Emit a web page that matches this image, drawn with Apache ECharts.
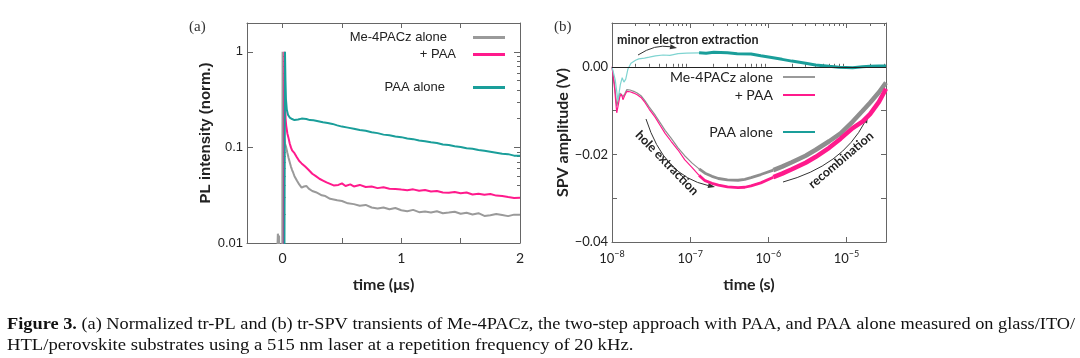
<!DOCTYPE html>
<html><head><meta charset="utf-8">
<script src="https://cdn.jsdelivr.net/npm/echarts@6/dist/echarts.min.js"></script>
<style>html,body{margin:0;padding:0;background:#fff}#c{width:1080px;height:358px}</style>
</head><body><div id="c"></div><script>
// ---------------- DATA ----------------
// (a) tr-PL, time in µs, normalized intensity
const plGray = [[-0.05,0.005],[-0.04,0.0125],[-0.035,0.011],[-0.03,0.012],[-0.025,0.005],[-0.003,0.005],[0.0,1.0],[0.004,0.3],[0.008,0.15],[0.012,0.125],[0.02,0.11],[0.03,0.1],[0.04,0.088],[0.05,0.078],[0.06,0.07],[0.07,0.063],[0.08,0.058],[0.09,0.054],[0.1,0.05],[0.12,0.045],[0.14,0.041],[0.16,0.038],[0.18,0.039],[0.2,0.0395],[0.22,0.037],[0.25,0.035],[0.28,0.034],[0.3,0.033],[0.33,0.0315],[0.36,0.031],[0.4,0.029],[0.43,0.0285],[0.46,0.028],[0.5,0.0275],[0.55,0.026],[0.6,0.0255],[0.65,0.0245],[0.7,0.025],[0.75,0.0235],[0.8,0.023],[0.85,0.0235],[0.9,0.0225],[0.95,0.0232],[1.0,0.022],[1.05,0.0215],[1.1,0.0222],[1.15,0.021],[1.2,0.0213],[1.25,0.0208],[1.3,0.0215],[1.35,0.0205],[1.4,0.0208],[1.45,0.0212],[1.5,0.0202],[1.55,0.0207],[1.6,0.0199],[1.65,0.0205],[1.7,0.0192],[1.75,0.0195],[1.8,0.0201],[1.85,0.0196],[1.9,0.0191],[1.95,0.0198],[2.0,0.0197]];
const plPink = [[0.01,0.005],[0.015,1.0],[0.02,0.35],[0.025,0.2],[0.03,0.17],[0.04,0.14],[0.05,0.125],[0.06,0.11],[0.07,0.1],[0.08,0.093],[0.1,0.087],[0.12,0.079],[0.14,0.072],[0.16,0.068],[0.19,0.063],[0.22,0.058],[0.25,0.053],[0.28,0.05],[0.31,0.047],[0.34,0.045],[0.37,0.043],[0.4,0.0415],[0.43,0.04],[0.47,0.0405],[0.5,0.042],[0.53,0.0395],[0.57,0.041],[0.6,0.039],[0.65,0.0405],[0.7,0.0385],[0.75,0.039],[0.8,0.0375],[0.85,0.0383],[0.9,0.037],[0.95,0.0368],[1.0,0.0362],[1.05,0.0357],[1.1,0.0364],[1.15,0.0352],[1.2,0.0358],[1.25,0.0346],[1.3,0.035],[1.35,0.0338],[1.4,0.0335],[1.45,0.0342],[1.5,0.0332],[1.55,0.0337],[1.6,0.0322],[1.65,0.0328],[1.7,0.0319],[1.75,0.0325],[1.8,0.0313],[1.85,0.031],[1.9,0.0302],[1.95,0.0296],[2.0,0.0298]];
const plTeal = [[0.015,0.005],[0.02,1.0],[0.024,0.5],[0.028,0.32],[0.035,0.25],[0.045,0.22],[0.06,0.205],[0.08,0.198],[0.1,0.193],[0.13,0.196],[0.16,0.2],[0.2,0.198],[0.23,0.193],[0.26,0.192],[0.3,0.188],[0.34,0.183],[0.38,0.18],[0.42,0.176],[0.46,0.17],[0.5,0.165],[0.55,0.161],[0.6,0.157],[0.65,0.152],[0.7,0.149],[0.75,0.144],[0.8,0.141],[0.85,0.136],[0.9,0.134],[0.95,0.13],[1.0,0.128],[1.05,0.124],[1.1,0.122],[1.15,0.118],[1.2,0.116],[1.25,0.113],[1.3,0.111],[1.35,0.107],[1.4,0.106],[1.45,0.103],[1.5,0.101],[1.55,0.098],[1.6,0.097],[1.65,0.094],[1.7,0.092],[1.75,0.09],[1.8,0.088],[1.85,0.086],[1.9,0.085],[1.95,0.082],[2.0,0.082]];

// (b) tr-SPV, time in s, amplitude in V
const spvGray = [[1.0e-8,0],[1.08e-8,-0.004],[1.15e-8,-0.009],[1.2e-8,-0.0092],[1.26e-8,-0.006],[1.32e-8,-0.0058],[1.38e-8,-0.0068],[1.45e-8,-0.0062],[1.55e-8,-0.0052],[1.7e-8,-0.0053],[1.9e-8,-0.0056],[2.1e-8,-0.006],[2.35e-8,-0.0066],[2.65e-8,-0.0078],[3.0e-8,-0.0092],[3.56e-8,-0.011],[4.1e-8,-0.0127],[4.78e-8,-0.0145],[5.7e-8,-0.0163],[7e-8,-0.0185],[8.5e-8,-0.0203],[1.06e-7,-0.022],[1.3e-7,-0.0233],[1.55e-7,-0.0243],[1.9e-7,-0.025],[2.3e-7,-0.0255],[3e-7,-0.0258],[4.1e-7,-0.0259],[5e-7,-0.0257],[6e-7,-0.0253],[8e-7,-0.0246],[1.16e-6,-0.0236],[1.5e-6,-0.0228],[2e-6,-0.0218],[3e-6,-0.0203],[4e-6,-0.019],[6e-6,-0.017],[8.4e-6,-0.0152],[1.2e-5,-0.0125],[1.6e-5,-0.0101],[2e-5,-0.0082],[2.6e-5,-0.0058],[3.2e-5,-0.0036]];
const spvPink = [[1.0e-8,0],[1.08e-8,-0.005],[1.15e-8,-0.0105],[1.2e-8,-0.0107],[1.26e-8,-0.0068],[1.32e-8,-0.0062],[1.38e-8,-0.0075],[1.45e-8,-0.0066],[1.55e-8,-0.0056],[1.7e-8,-0.0057],[1.9e-8,-0.006],[2.1e-8,-0.0064],[2.35e-8,-0.007],[2.65e-8,-0.0082],[3.0e-8,-0.0097],[3.56e-8,-0.0115],[4.1e-8,-0.0133],[4.78e-8,-0.0152],[5.7e-8,-0.017],[7e-8,-0.019],[8.5e-8,-0.0212],[1.06e-7,-0.023],[1.3e-7,-0.0248],[1.55e-7,-0.026],[1.9e-7,-0.0266],[2.3e-7,-0.027],[3e-7,-0.0274],[4.1e-7,-0.0276],[5e-7,-0.0275],[6e-7,-0.0272],[8e-7,-0.0265],[1.16e-6,-0.0252],[1.5e-6,-0.0244],[2e-6,-0.0234],[3e-6,-0.0219],[4e-6,-0.0206],[6e-6,-0.0185],[8.4e-6,-0.0164],[1.2e-5,-0.0140],[1.6e-5,-0.0125],[2e-5,-0.0108],[2.6e-5,-0.008],[3.2e-5,-0.005]];
const spvTeal = [[1.0e-8,0],[1.1e-8,-0.003],[1.19e-8,-0.0077],[1.28e-8,-0.004],[1.35e-8,-0.0025],[1.42e-8,-0.0035],[1.5e-8,-0.0028],[1.6e-8,-0.0005],[1.75e-8,0.0008],[2.0e-8,0.0015],[2.2e-8,0.0018],[2.6e-8,0.002],[3.0e-8,0.0022],[3.6e-8,0.0025],[4.5e-8,0.0027],[5.5e-8,0.0026],[7e-8,0.003],[9e-8,0.0031],[1.3e-7,0.0032],[1.6e-7,0.0031],[2e-7,0.0033],[3e-7,0.0032],[4e-7,0.003],[6e-7,0.0029],[8e-7,0.0025],[1.1e-6,0.0021],[1.5e-6,0.0017],[2e-6,0.0013],[3e-6,0.0008],[4e-6,0.0004],[6e-6,0.0001],[8e-6,-0.0001],[1.2e-5,-0.0002],[1.6e-5,0.0],[2e-5,0.0001],[2.6e-5,0.0002],[3.2e-5,0.0002]];

// names and ticks
const seriesNames = ['Me-4PACz alone', '+ PAA', 'PAA alone'];
const xTicksA = [0, 0.5, 1, 1.5, 2];
const xLabelsA = [0, 1, 2];
const yTicksA = [0.01, 0.1, 1];
const yLabelsA = ['0.01', '0.1', '1'];
const yMinorA = [0.02,0.03,0.04,0.05,0.06,0.07,0.08,0.09,0.2,0.3,0.4,0.5,0.6,0.7,0.8,0.9,2];
const xTicksB = [1e-8, 1e-7, 1e-6, 1e-5];
const xMinorB = [2e-8,3e-8,4e-8,5e-8,6e-8,7e-8,8e-8,9e-8,2e-7,3e-7,4e-7,5e-7,6e-7,7e-7,8e-7,9e-7,2e-6,3e-6,4e-6,5e-6,6e-6,7e-6,8e-6,9e-6,2e-5,3e-5];
const yLabelsB = [-0.04, -0.02, 0];

// ---------------- STYLE ----------------
const FRAME = '#666';
const TXT = '#222';
const fA = '"Liberation Sans", Arial, sans-serif';
const fB = 'Lato, "Open Sans", sans-serif';
const C = {gray: '#9a9a9a', grayB: '#8e8e8e', pink: '#ff1a8c', teal: '#1a9e9a', tealLight: '#7fd4d1'};

const gA = {left: 247, top: 23, width: 273, height: 220};
const gB = {left: 612, top: 23, width: 274, height: 219};

function ax(o) {
  return Object.assign({
    axisLine: {show: true, onZero: false, lineStyle: {color: FRAME, width: 1}},
    splitLine: {show: false}, axisLabel: {show: false},
    axisTick: {show: false}, nameTextStyle: {}
  }, o);
}
const tick = (vals, len) => ({show: true, inside: true, length: len, customValues: vals, lineStyle: {color: FRAME, width: 1}});

function splitAt(d, thr) {
  let i = d.findIndex(p => p[0] >= thr);
  return [d.slice(0, i + 1), d.slice(i)];
}

const xAxis = [
  ax({gridIndex: 0, type: 'value', min: -0.3, max: 2, position: 'bottom',
      axisTick: tick(xTicksA, 5),
      axisLabel: {show: true, customValues: xLabelsA, fontFamily: fB, fontSize: 14, color: TXT, margin: 8},
      name: 'time (μs)', nameLocation: 'middle', nameGap: 34,
      nameTextStyle: {fontFamily: fB, fontSize: 16, fontWeight: 'bold', color: TXT}}),
  ax({gridIndex: 0, type: 'value', min: -0.3, max: 2, position: 'top', axisTick: tick(xTicksA, 5)}),
  {gridIndex: 1, type: 'value', min: -0.3, max: 2, show: false},
  ax({gridIndex: 2, type: 'log', logBase: 10, min: 1e-8, max: 3.2e-5, position: 'bottom',
      axisTick: tick(xTicksB, 5),
      axisLabel: {show: true, customValues: xTicksB, fontFamily: fB, fontSize: 13, color: TXT, margin: 8,
        formatter: v => { const e = Math.round(Math.log10(v)); return '10{s|' + (e < 0 ? '−' : '') + Math.abs(e) + '}'; },
        rich: {s: {fontFamily: fB, fontSize: 9, color: TXT, padding: [0, 0, 8, 0]}}},
      name: 'time (s)', nameLocation: 'middle', nameGap: 35,
      nameTextStyle: {fontFamily: fB, fontSize: 16, fontWeight: 'bold', color: TXT}}),
  ax({gridIndex: 2, type: 'log', logBase: 10, min: 1e-8, max: 3.2e-5, position: 'top', axisTick: tick(xTicksB, 5)}),
  ax({gridIndex: 3, type: 'log', logBase: 10, min: 1e-8, max: 3.2e-5, position: 'bottom', axisLine: {show: false}, axisTick: tick(xMinorB, 3)}),
  ax({gridIndex: 3, type: 'log', logBase: 10, min: 1e-8, max: 3.2e-5, position: 'top', axisLine: {show: false}, axisTick: tick(xMinorB, 3)})
];

const yAxis = [
  ax({gridIndex: 0, type: 'log', logBase: 10, min: 0.01, max: 2, position: 'left',
      axisTick: tick(yTicksA, 6),
      axisLabel: {show: true, customValues: yTicksA, fontFamily: fA, fontSize: 13, color: TXT, margin: 4,
        formatter: v => { const i = yTicksA.findIndex(t => Math.abs(t - v) / t < 1e-6); return i >= 0 ? yLabelsA[i] : ''; }},
      name: 'PL intensity (norm.)', nameLocation: 'middle', nameGap: 33, nameRotate: 90,
      nameTextStyle: {fontFamily: fA, fontSize: 15, fontWeight: 'bold', color: TXT}}),
  ax({gridIndex: 0, type: 'log', logBase: 10, min: 0.01, max: 2, position: 'right', axisTick: tick(yTicksA, 6)}),
  ax({gridIndex: 1, type: 'log', logBase: 10, min: 0.01, max: 2, position: 'left', axisLine: {show: false}, axisTick: tick(yMinorA, 3)}),
  ax({gridIndex: 1, type: 'log', logBase: 10, min: 0.01, max: 2, position: 'right', axisLine: {show: false}, axisTick: tick(yMinorA, 3)}),
  ax({gridIndex: 2, type: 'value', min: -0.04, max: 0.01, interval: 0.01, position: 'left',
      axisTick: {show: true, inside: true, length: 5, lineStyle: {color: FRAME}},
      axisLabel: {show: true, customValues: yLabelsB, fontFamily: fB, fontSize: 13, color: TXT, margin: 4,
        formatter: v => (v < 0 ? '−' : '') + Math.abs(v).toFixed(2)},
      name: 'SPV amplitude (V)', nameLocation: 'middle', nameGap: 38, nameRotate: 90,
      nameTextStyle: {fontFamily: fB, fontSize: 16, fontWeight: 'bold', color: TXT}}),
  ax({gridIndex: 2, type: 'value', min: -0.04, max: 0.01, interval: 0.01, position: 'right',
      axisTick: {show: true, inside: true, length: 5, lineStyle: {color: FRAME}}}),
  {gridIndex: 3, type: 'value', min: -0.04, max: 0.01, show: false}
];

function lineS(name, data, xi, yi, color, width, z) {
  return {type: 'line', name, data, xAxisIndex: xi, yAxisIndex: yi, showSymbol: false, symbol: 'none',
    lineStyle: {color, width}, itemStyle: {color}, z: z || 2, animation: false, silent: true};
}

const [gE, gM0] = splitAt(spvGray, 1.3e-7);
const [gM, gL] = splitAt(gM0, 1e-6);
const [pE, pM0] = splitAt(spvPink, 1.3e-7);
const [pM, pL] = splitAt(pM0, 1e-6);
const [tE, tL] = splitAt(spvTeal, 1.3e-7);

const series = [
  lineS(seriesNames[0], plGray, 0, 0, C.gray, 2, 2),
  lineS(seriesNames[1], plPink, 0, 0, C.pink, 2, 3),
  lineS(seriesNames[2], plTeal, 0, 0, C.teal, 2, 4),
  Object.assign(lineS(seriesNames[0], gE, 3, 4, C.grayB, 1.2, 2), {
    markLine: {silent: true, symbol: 'none', label: {show: false}, animation: false,
      lineStyle: {color: '#222', type: 'solid', width: 1}, data: [{yAxis: 0}]}}),
  lineS(seriesNames[0], gM, 3, 4, C.grayB, 2.8, 2),
  lineS(seriesNames[0], gL, 3, 4, C.grayB, 4.5, 2),
  lineS(seriesNames[1], pE, 3, 4, C.pink, 1.2, 3),
  lineS(seriesNames[1], pM, 3, 4, C.pink, 2.8, 3),
  lineS(seriesNames[1], pL, 3, 4, C.pink, 4.5, 3),
  lineS(seriesNames[2], tE, 3, 4, C.tealLight, 1.2, 4),
  lineS(seriesNames[2], tL, 3, 4, C.teal, 3, 4)
];

function leg(name, right, top, pad, font, size, h) {
  return {data: [name], right, top, orient: 'horizontal', align: 'right', padding: 0,
    itemWidth: 32, itemHeight: h, icon: 'rect', selectedMode: false,
    textStyle: {fontFamily: font, fontSize: size, color: TXT, padding: [0, pad, 0, 0]}};
}
const legend = [
  leg(seriesNames[0], 575, 31, 21, fA, 13, 3),
  leg(seriesNames[1], 575, 48, 12, fA, 13, 3),
  leg(seriesNames[2], 575, 81, 23, fA, 13, 3),
  leg(seriesNames[0], 265, 70, 5, fB, 14, 2),
  leg(seriesNames[1], 265, 88, 5, fB, 14, 2),
  leg(seriesNames[2], 265, 125, 5, fB, 14, 2)
];

function arrow(x1, y1, cx, cy, x2, y2) {
  const a = Math.atan2(y2 - cy, x2 - cx), L = 7, W = 2.6;
  const bx = x2 - L * Math.cos(a), by = y2 - L * Math.sin(a);
  return [
    {type: 'bezierCurve', shape: {x1, y1, cpx1: cx, cpy1: cy, x2: bx, y2: by}, style: {stroke: '#333', lineWidth: 1, fill: null}, silent: true},
    {type: 'polygon', shape: {points: [[x2, y2], [bx - W * Math.sin(a), by + W * Math.cos(a)], [bx + W * Math.sin(a), by - W * Math.cos(a)]]}, style: {fill: '#333'}, silent: true}
  ];
}
const annFont = 'bold 12.5px Lato, "Open Sans", sans-serif';
const capFont = '"Liberation Serif", "DejaVu Serif", serif';

const graphic = [
  {type: 'text', x: 617, y: 40, style: {text: 'minor electron extraction', font: annFont, fill: TXT, verticalAlign: 'middle'}, silent: true},
  {type: 'text', x: 667, y: 163, rotation: -0.80, style: {text: 'hole extraction', font: annFont, fill: TXT, align: 'center', verticalAlign: 'middle'}, silent: true},
  {type: 'text', x: 841, y: 160, rotation: 0.70, style: {text: 'recombination', font: annFont, fill: TXT, align: 'center', verticalAlign: 'middle'}, silent: true},
  ...arrow(638, 55, 655, 44, 677, 48),
  ...arrow(646, 119, 664, 176, 715, 187),
  ...arrow(783, 182, 842, 166, 868, 116),
  {type: 'text', x: 7, y: 325, scaleX: 1.145, style: {
    text: '{b|Figure 3.} (a) Normalized tr-PL and (b) tr-SPV transients of Me-4PACz, the two-step approach with PAA, and PAA alone measured on glass/ITO/',
    fontFamily: capFont, fontSize: 16, fill: '#111', verticalAlign: 'middle',
    rich: {b: {fontFamily: capFont, fontSize: 16, fontWeight: 'bold', fill: '#111'}}}, silent: true},
  {type: 'text', x: 7, y: 346, scaleX: 1.165, style: {
    text: 'HTL/perovskite substrates using a 515 nm laser at a repetition frequency of 20 kHz.',
    fontFamily: capFont, fontSize: 16, fill: '#111', verticalAlign: 'middle'}, silent: true}
];

const option = {
  animation: false,
  backgroundColor: '#fff',
  title: [
    {text: '(a)', left: 189, top: 20, padding: 0, textStyle: {fontFamily: capFont, fontSize: 15, fontWeight: 'normal', color: '#333'}},
    {text: '(b)', left: 554, top: 20, padding: 0, textStyle: {fontFamily: capFont, fontSize: 15, fontWeight: 'normal', color: '#333'}}
  ],
  grid: [gA, gA, gB, gB].map(g => Object.assign({containLabel: false}, g)),
  xAxis, yAxis, series, legend, graphic
};
const chart = echarts.init(document.getElementById('c'));
chart.setOption(option);
</script></body></html>
